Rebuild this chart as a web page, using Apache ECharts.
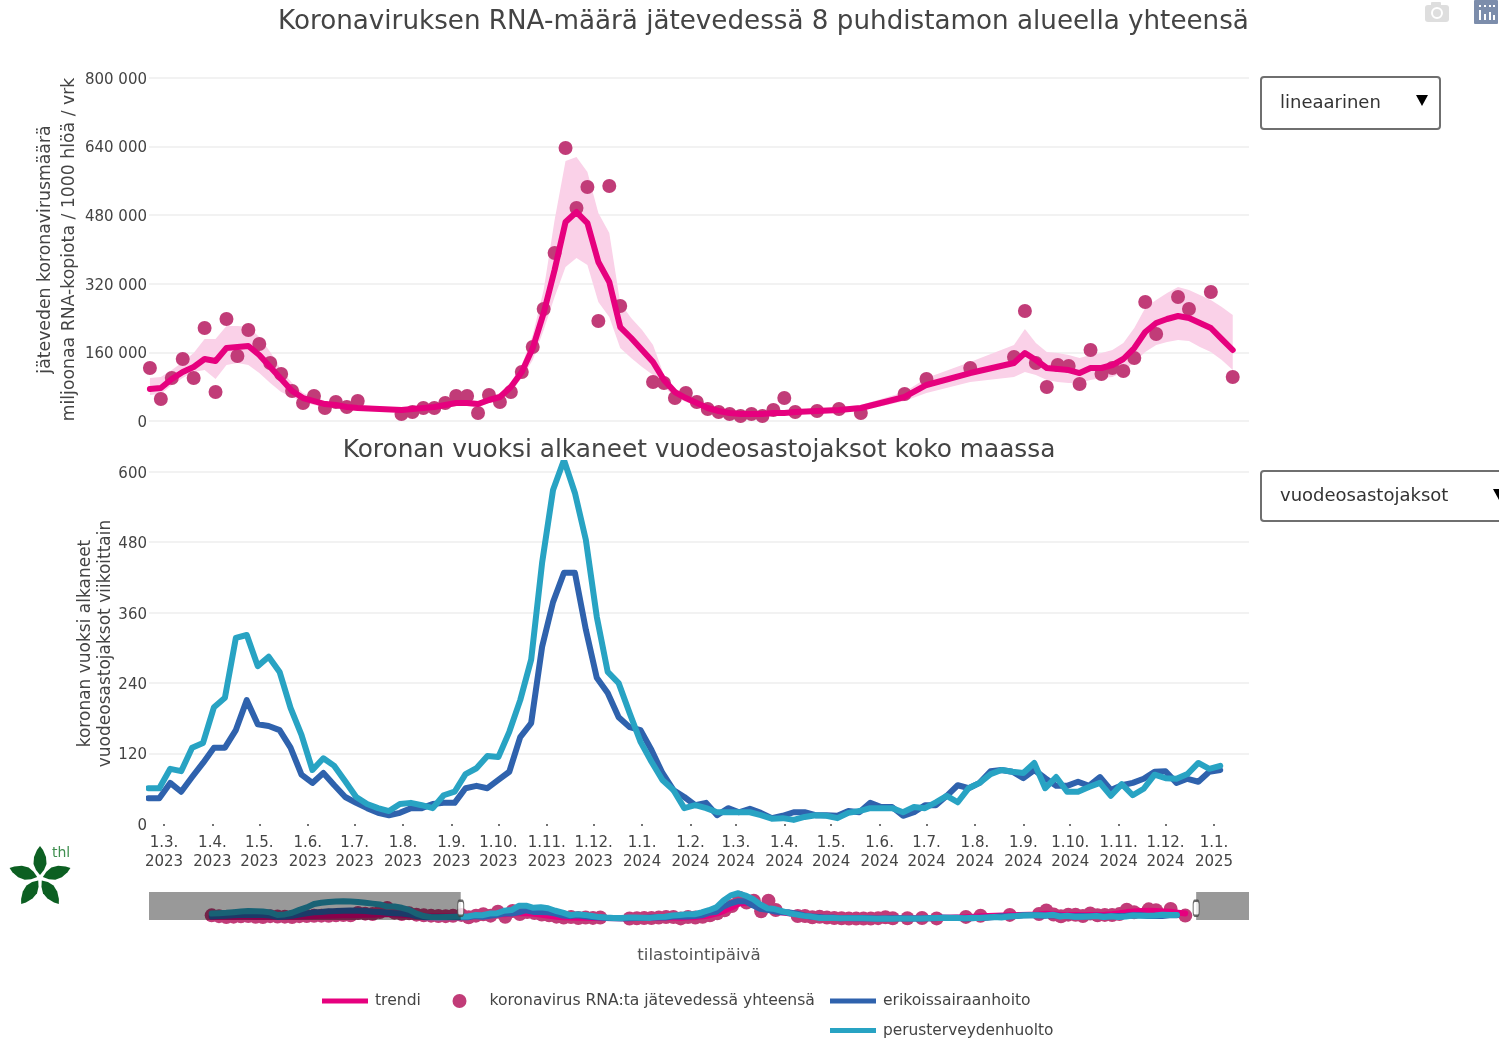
<!DOCTYPE html>
<html><head><meta charset="utf-8">
<style>html,body{margin:0;padding:0;background:#fff;overflow:hidden}#c{width:1499px;height:1038px}</style>
<script src="https://cdn.jsdelivr.net/npm/echarts@6/dist/echarts.min.js"></script>
</head><body><div id="c"></div>
<script>
const n = null;
const tickDates = [[2023,3],[2023,4],[2023,5],[2023,6],[2023,7],[2023,8],[2023,9],[2023,10],[2023,11],[2023,12],[2024,1],[2024,2],[2024,3],[2024,4],[2024,5],[2024,6],[2024,7],[2024,8],[2024,9],[2024,10],[2024,11],[2024,12],[2025,1]];
const tickLabels = ["1.3.\n2023","1.4.\n2023","1.5.\n2023","1.6.\n2023","1.7.\n2023","1.8.\n2023","1.9.\n2023","1.10.\n2023","1.11.\n2023","1.12.\n2023","1.1.\n2024","1.2.\n2024","1.3.\n2024","1.4.\n2024","1.5.\n2024","1.6.\n2024","1.7.\n2024","1.8.\n2024","1.9.\n2024","1.10.\n2024","1.11.\n2024","1.12.\n2024","1.1.\n2025"];

const wasteDots = [123600,51300,100300,144600,100300,216900,67600,237900,151600,212200,
179600,135300,109600,70000,42000,58300,30300,44300,32600,46600,
n,n,n,16300,21000,30300,30300,42000,58300,58300,
18700,60600,44300,67600,114300,172600,261200,391800,636600,496700,
545700,233200,548000,268200,n,n,91000,88600,53600,65300,
44300,28000,21000,16300,11700,16300,11700,25700,53600,21000,
n,23300,n,28000,n,18700,n,n,n,63000,
n,98000,n,n,n,123600,n,n,n,149200,
256500,135300,79300,130600,128300,86300,165600,109600,123600,116600,
146900,277500,202900,n,289200,261200,n,300800,n,102600];

const wasteTrend = [74600,77000,98000,114300,125900,144600,139900,170200,172600,174900,
153900,125900,98000,70000,53600,46600,39600,37300,32600,30300,
n,n,n,25700,28000,30300,32600,37300,42000,42000,
39600,49000,56000,79300,114300,170200,251900,352100,464100,487400,
461700,370800,324100,219200,193600,165600,137600,95600,67600,53600,
42000,30300,23300,18700,16300,16300,16300,18700,18700,21000,
n,23300,n,25700,n,30300,n,n,n,56000,
n,84000,n,n,n,111900,n,n,n,135300,
158600,142300,123600,121300,118900,111900,123600,123600,130600,144600,
170200,207500,228500,237900,244900,240200,228500,216900,191200,165600];

const wasteUpper = [100300,102600,118900,137600,158600,191200,191200,221500,221500,219200,
195900,160900,118900,88600,65300,56000,46600,44300,39600,37300,
n,n,n,30300,32600,35000,39600,44300,49000,49000,
46600,56000,65300,91000,130600,200600,305500,468700,606300,615600,
580700,485000,438400,275200,240200,212200,177200,107300,77000,60600,
49000,35000,28000,21000,18700,21000,21000,23300,23300,25700,
n,30300,n,32600,n,37300,n,n,n,67600,
n,100300,n,n,n,137600,n,n,n,177200,
214500,181900,160900,158600,153900,146900,153900,158600,165600,181900,
216900,263500,282200,298500,312500,305500,293800,282200,265800,247200];

const wasteLower = [60600,63000,84000,100300,114300,118900,98000,130600,135300,130600,
111900,88600,67600,56000,44300,37300,32600,30300,28000,25700,
n,n,n,21000,23300,25700,28000,30300,35000,35000,
32600,42000,49000,67600,100300,142300,212200,289200,359100,380100,
363800,277500,242500,170200,146900,125900,107300,79300,56000,44300,
35000,25700,18700,14000,11700,11700,11700,14000,14000,16300,
n,18700,n,21000,n,23300,n,n,n,46600,
n,65300,n,n,n,91000,n,n,n,102600,
114300,107300,95600,91000,88600,88600,95600,100300,102600,114300,
137600,160900,177200,184200,188900,186600,172600,160900,142300,118900];

const erikois = [44,44,70,55,80,104,130,130,160,211,170,167,160,130,84,70,87,66,46,36,27,19,15,19,27,27,34,36,36,61,65,61,75,89,148,172,302,378,428,428,331,249,223,182,165,160,126,87,58,46,32,36,15,27,20,26,19,10,14,20,20,15,15,14,22,20,36,29,29,14,20,32,32,48,66,61,70,90,92,89,78,92,78,65,65,72,65,80,58,66,70,77,89,90,70,77,72,89,92];
const perus = [61,61,94,90,130,138,199,215,317,322,269,285,259,198,152,92,112,99,73,46,34,27,22,34,36,32,27,49,55,85,95,116,114,157,211,280,445,569,620,564,484,353,259,240,189,140,106,75,58,27,32,27,20,20,20,20,15,9,10,7,12,15,14,10,19,22,27,27,27,20,29,27,37,48,37,61,70,85,92,89,87,104,61,80,55,55,63,70,48,68,49,60,84,78,77,85,104,94,99];

// earlier weeks, visible only in the overview strip
const earlyPerus = [130,140,150,165,180,190,185,180,160,95,110,150,220,280,360,390,410,420,425,420,410,390,370,350,300,300,270,220,130,70,50,45,50,55];
const earlyErikois = [60,70,80,90,95,100,95,95,85,50,60,80,110,135,160,170,185,190,200,205,200,190,175,170,150,140,130,110,70,45,40,40,40,45];
const earlyDots = [110000,85000,60000,70000,80000,90000,65000,60000,85000,75000,70000,60000,85000,90000,95000,100000,95000,110000,120000,110000,180000,160000,150000,210000,330000,190000,150000,170000,130000,110000,100000,90000,85000,95000];
const earlyTrend = [60000,65000,70000,70000,75000,75000,70000,65000,65000,65000,65000,70000,75000,85000,90000,95000,100000,105000,110000,110000,120000,125000,130000,140000,150000,140000,125000,115000,100000,90000,80000,75000,72000,72000];

const TXT = '#444', FONT = 'DejaVu Sans';
const C = {trend:'#e6007e', dot:'#c13c78', band:'#fad1e8', eri:'#2f62ad', per:'#28a3c3', grid:'#eeeeee'};
const NAMES = {t:'trendi', d:'koronavirus RNA:ta jätevedessä yhteensä', e:'erikoissairaanhoito', p:'perusterveydenhuolto'};

const week = (y,m,d,i) => new Date(y,m-1,d+7*i).getTime();
const wasteT = i => week(2023,2,20,i), careT = i => week(2023,2,19,i);
const earlyT = i => week(2022,6,26,i);
const pairs = (arr,tf) => arr.map((v,i)=>[tf(i),v]).filter(p=>p[1]!==null);
const tickTimes = tickDates.map(d=>new Date(d[0],d[1]-1,1).getTime());
const mainMin = new Date(2023,1,19,10).getTime(), mainMax = new Date(2025,0,23,10).getTime();
const miniMin = new Date(2022,3,27).getTime(), miniMax = new Date(2025,2,15).getTime();

const thousand = v => String(v).replace(/\B(?=(\d{3})+$)/g,' ');
const miniW = arr => pairs(arr,earlyT), miniE = early => early.map((v,i)=>[earlyT(i),v]);

const lineS = (name,data,color,x,y,z) => ({name,type:'line',data,xAxisIndex:x,yAxisIndex:y,z,showSymbol:false,symbol:'none',connectNulls:true,
  lineStyle:{color,width:6,cap:'round',join:'round'},itemStyle:{color},silent:true});
const dotS = (name,data,x,y,z) => ({name,type:'scatter',data,xAxisIndex:x,yAxisIndex:y,z,symbol:'circle',symbolSize:14,itemStyle:{color:C.dot,opacity:1},silent:true});

const leafPts = [[0,-3],[-4,-8],[-6.5,-14],[-6,-21],[-3,-28],[0,-32],[3,-28],[6,-21],[6.5,-14],[4,-8]];
const leaves = [0,1,2,3,4].map(k=>({type:'polygon',x:40,y:878,rotation:-k*2*Math.PI/5,shape:{points:leafPts},style:{fill:'#0c5f22'},silent:true}));
const button = (x,y,w,h,label,ax)=>[
  {type:'rect',shape:{x,y,width:w,height:h,r:3},style:{fill:'#fff',stroke:'#6f6f6f',lineWidth:2},silent:true},
  {type:'text',x:x+19,y:y+h/2,style:{text:label,fill:'#333',font:'18px "DejaVu Sans"',verticalAlign:'middle'},silent:true},
  {type:'polygon',shape:{points:[[ax-6,y+18],[ax+6,y+18],[ax,y+29]]},style:{fill:'#000'},silent:true}
];
const bars = [[1479,10,2,10],[1484,14,2,6],[1489,12,2,8],[1493,15,2,5],[1479,5,2,2],[1484,5,2,2],[1489,5,2,2],[1493,5,2,2]];
const xAx = (gridIndex,type,min,max,extra)=>Object.assign({type,gridIndex,min,max,axisLine:{show:false},axisTick:{show:false},axisLabel:{show:false},splitLine:{show:false}},extra);

const chart = echarts.init(document.getElementById('c'),null,{renderer:'canvas'});
chart.setOption({
  animation:false,
  backgroundColor:'#fff',
  title:[
    {text:'Koronaviruksen RNA-määrä jätevedessä 8 puhdistamon alueella yhteensä',left:758.5,top:4,textAlign:'center',textStyle:{fontFamily:FONT,fontSize:26.2,fontWeight:'normal',color:TXT}},
    {text:'Koronan vuoksi alkaneet vuodeosastojaksot koko maassa',left:694,top:433,textAlign:'center',textStyle:{fontFamily:FONT,fontSize:24.8,fontWeight:'normal',color:TXT}},
    {text:'tilastointipäivä',left:694,top:942,textAlign:'center',textStyle:{fontFamily:FONT,fontSize:16.7,fontWeight:'normal',color:'#555'}}
  ],
  legend:[
    {left:317,top:988,selectedMode:false,data:[NAMES.t],icon:'rect',itemWidth:46,itemHeight:5,textStyle:{fontFamily:FONT,fontSize:15.6,color:TXT,padding:[0,0,0,2]}},
    {left:447.5,top:988,selectedMode:false,data:[NAMES.d],icon:'circle',itemWidth:14,itemHeight:14,textStyle:{fontFamily:FONT,fontSize:15.6,color:TXT,padding:[0,0,0,18]}},
    {left:825,top:988,selectedMode:false,data:[NAMES.e],icon:'rect',itemWidth:46,itemHeight:5,textStyle:{fontFamily:FONT,fontSize:15.6,color:TXT,padding:[0,0,0,2]}},
    {left:825,top:1018,selectedMode:false,data:[NAMES.p],icon:'rect',itemWidth:46,itemHeight:5,textStyle:{fontFamily:FONT,fontSize:15.4,color:TXT,padding:[0,0,0,2]}}
  ],
  grid:[
    {left:149,width:1100,top:78,height:343},
    {left:149,width:1100,top:463,height:361},
    {left:149,width:1100,top:892,height:28}
  ],
  xAxis:[
    xAx(0,'time',mainMin,mainMax,{}),
    xAx(1,'value',mainMin,mainMax,{
      axisTick:{show:true,length:2,lineStyle:{color:'#444',width:1.5},customValues:tickTimes},
      axisLabel:{show:true,customValues:tickTimes,hideOverlap:false,margin:10,color:TXT,fontFamily:FONT,fontSize:15,lineHeight:19,
        formatter:v=>{const i=tickTimes.indexOf(+v);return i<0?'':tickLabels[i];}}}),
    xAx(2,'value',miniMin,miniMax,{show:false})
  ],
  yAxis:[
    {type:'value',gridIndex:0,min:0,max:800000,interval:160000,axisLine:{show:false},axisTick:{show:false},
      axisLabel:{margin:2,color:TXT,fontFamily:FONT,fontSize:15,formatter:thousand,verticalAlign:'top',lineHeight:4},
      splitLine:{lineStyle:{color:C.grid,width:1.5}},
      name:'jäteveden koronavirusmäärä\nmiljoonaa RNA-kopiota / 1000 hlöä / vrk',nameLocation:'middle',nameRotate:90,nameGap:67,nameMoveOverlap:false,
      nameTextStyle:{color:TXT,fontFamily:FONT,fontSize:17.3,lineHeight:24,align:'center'}},
    {type:'value',gridIndex:1,min:0,max:615,interval:120,axisLine:{show:false},axisTick:{show:false},
      axisLabel:{margin:2,color:TXT,fontFamily:FONT,fontSize:15,showMaxLabel:false,verticalAlign:'top',lineHeight:4},
      splitLine:{showMinLine:false,showMaxLine:false,lineStyle:{color:C.grid,width:1.5}},
      name:'koronan vuoksi alkaneet\nvuodeosastojaksot viikoittain',nameLocation:'middle',nameRotate:90,nameGap:33,nameMoveOverlap:false,
      nameTextStyle:{color:TXT,fontFamily:FONT,fontSize:17,lineHeight:20,align:'center'}},
    {type:'value',gridIndex:2,min:-30000,max:810000,show:false,splitLine:{show:false}},
    {type:'value',gridIndex:2,min:-24,max:650,show:false,splitLine:{show:false}}
  ],
  series:[
    {type:'line',data:pairs(wasteLower,wasteT),xAxisIndex:0,yAxisIndex:0,stack:'band',symbol:'none',lineStyle:{opacity:0},z:1,silent:true},
    {type:'line',data:wasteUpper.map((v,i)=>[wasteT(i),v===null?null:v-wasteLower[i]]).filter(p=>p[1]!==null),xAxisIndex:0,yAxisIndex:0,stack:'band',symbol:'none',lineStyle:{opacity:0},areaStyle:{color:C.band,opacity:1},z:1,silent:true},
    dotS(NAMES.d,pairs(wasteDots,wasteT),0,0,2),
    lineS(NAMES.t,pairs(wasteTrend,wasteT),C.trend,0,0,3),
    lineS(NAMES.e,pairs(erikois,careT),C.eri,1,1,2),
    lineS(NAMES.p,pairs(perus,careT),C.per,1,1,3),
    dotS(NAMES.d,miniW(earlyDots).concat(pairs(wasteDots,wasteT)),2,2,2),
    lineS(NAMES.t,miniW(earlyTrend).concat(pairs(wasteTrend,wasteT)),C.trend,2,2,3),
    lineS(NAMES.e,miniE(earlyErikois).concat(pairs(erikois,careT)),C.eri,2,3,4),
    lineS(NAMES.p,miniE(earlyPerus).concat(pairs(perus,careT)),C.per,2,3,5),
    {type:'custom',xAxisIndex:2,yAxisIndex:3,z:8,silent:true,clip:true,
      data:[[miniMin,mainMin],[mainMax,miniMax]],
      renderItem:(p,api)=>{const a=api.coord([api.value(0),0])[0],b=api.coord([api.value(1),0])[0],g=p.coordSys;
        return {type:'rect',shape:{x:a,y:g.y,width:b-a,height:g.height},style:{fill:'rgba(0,0,0,0.4)'}};}},
    {type:'scatter',xAxisIndex:2,yAxisIndex:3,z:9,silent:true,clip:false,symbol:'roundRect',symbolSize:[6,15],
      itemStyle:{color:'#fff',borderColor:'#444',borderWidth:1.5},data:[[mainMin,260],[mainMax,260]]}
  ],
  graphic:[
    ...button(1261,77,179,52,'lineaarinen',1422),
    ...button(1261,471,260,50,'vuodeosastojaksot',1499),
    ...leaves,
    {type:'text',x:52,y:846,style:{text:'thl',fill:'#3f8f4f',font:'14px "DejaVu Sans"'},silent:true},
    {type:'rect',shape:{x:1425,y:5,width:24,height:17,r:3},style:{fill:'#dedede'},silent:true},
    {type:'rect',shape:{x:1431,y:2,width:10,height:4,r:1},style:{fill:'#dedede'},silent:true},
    {type:'circle',shape:{cx:1437,cy:13,r:5},style:{fill:'#dedede',stroke:'#fff',lineWidth:2},silent:true},
    {type:'rect',shape:{x:1474,y:0,width:24,height:24,r:1},style:{fill:'#7c8dab'},silent:true},
    ...bars.map(b=>({type:'rect',shape:{x:b[0],y:b[1],width:b[2],height:b[3]},style:{fill:'#fff'},silent:true}))
  ]
});
</script></body></html>
